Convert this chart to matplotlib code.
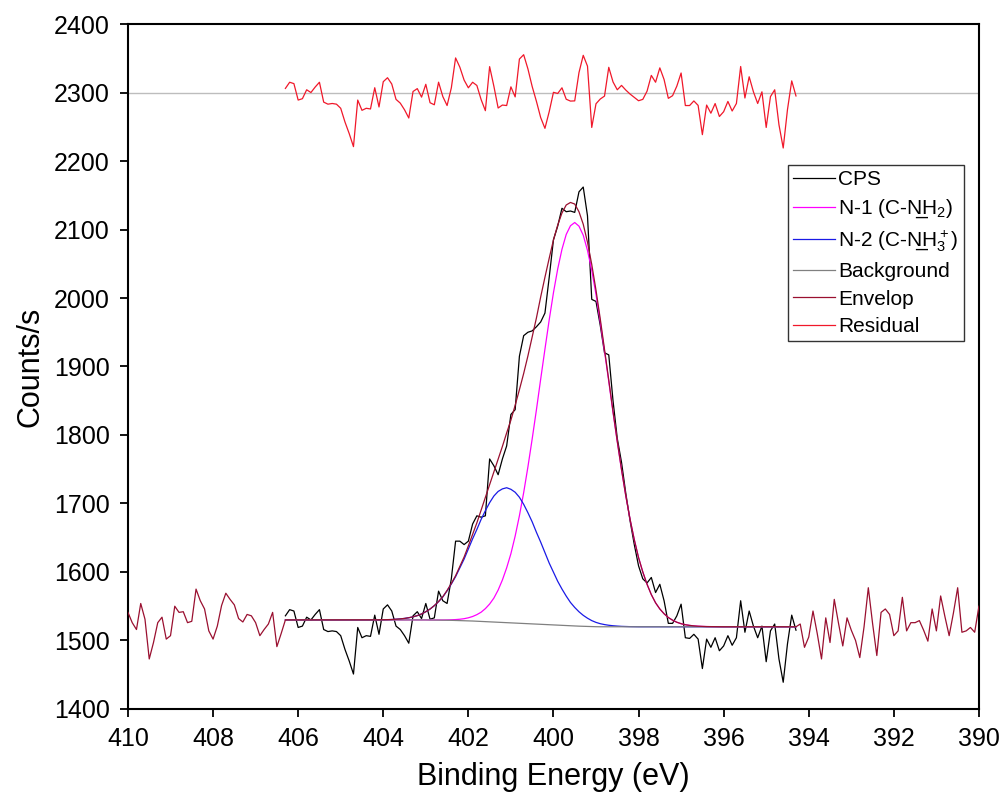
import numpy as np
import matplotlib
matplotlib.use("Agg")
import matplotlib.pyplot as plt

plt.rcParams["font.family"] = ["Liberation Sans", "DejaVu Sans"]
plt.rcParams["mathtext.fontset"] = "custom"
plt.rcParams["mathtext.rm"] = "Liberation Sans"
plt.rcParams["mathtext.it"] = "Liberation Sans:italic"

# binding energy grids (eV), 0.1 eV steps
left_be = np.round(np.arange(410.0, 406.35, -0.1), 1)   # outside fit region
cps_be = np.round(np.arange(406.3, 394.25, -0.1), 1)    # fit region
right_be = np.round(np.arange(394.2, 389.95, -0.1), 1)  # outside fit region

# raw counts outside the fit region (drawn with the envelope colour)
left_counts = [1541, 1526, 1516, 1554, 1531, 1473, 1497, 1526, 1534, 1502,
               1507, 1550, 1541, 1542, 1526, 1528, 1575, 1558, 1546, 1514,
               1502, 1521, 1551, 1569, 1560, 1552, 1532, 1527, 1538, 1536,
               1526, 1507, 1516, 1524, 1541, 1491, 1510]
right_counts = [1524, 1490, 1505, 1543, 1510, 1473, 1533, 1497, 1560, 1525,
                1492, 1533, 1515, 1500, 1475, 1520, 1577, 1525, 1478, 1541,
                1546, 1538, 1507, 1514, 1563, 1514, 1526, 1526, 1529, 1515,
                1499, 1546, 1514, 1565, 1535, 1507, 1540, 1577, 1512, 1514,
                1519, 1512, 1550]

# measured counts in the fit region 406.3 -> 394.3 eV
cps = [1536, 1545, 1543, 1519, 1521, 1534, 1530, 1538, 1545, 1516,
       1513, 1514, 1513, 1507, 1487, 1470, 1451, 1519, 1504, 1507,
       1506, 1537, 1509, 1546, 1552, 1543, 1521, 1516, 1507, 1496,
       1536, 1542, 1532, 1554, 1531, 1533, 1572, 1558, 1554, 1590,
       1645, 1645, 1640, 1645, 1670, 1682, 1680, 1682, 1765, 1755,
       1742, 1765, 1784, 1830, 1837, 1915, 1945, 1950, 1952, 1958,
       1965, 1978, 2030, 2085, 2105, 2131, 2126, 2127, 2125, 2155,
       2162, 2120, 1998, 1995, 1960, 1920, 1917, 1850, 1795, 1760,
       1715, 1675, 1640, 1609, 1590, 1584, 1592, 1570, 1582, 1558,
       1525, 1525, 1536, 1553, 1504, 1503, 1509, 1502, 1459, 1502,
       1490, 1504, 1485, 1492, 1507, 1493, 1504, 1558, 1512, 1543,
       1521, 1504, 1521, 1469, 1514, 1524, 1473, 1439, 1495, 1537,
       1515]

# Shirley-type background 406.3 -> 394.3 eV
background = [1530, 1530, 1530, 1530, 1530, 1530, 1530, 1530, 1530, 1530,
              1530, 1530, 1530, 1530, 1530, 1530, 1530, 1530, 1530, 1530,
              1530, 1530, 1530, 1530, 1530, 1530, 1530, 1530, 1530, 1530,
              1530, 1530, 1530, 1530,
              1529.9, 1529.8, 1529.7, 1529.6, 1529.5, 1529.4, 1529.2, 1529.0, 1528.8, 1528.6,
              1528.4, 1528.1, 1527.8, 1527.5, 1527.2, 1526.9, 1526.6, 1526.3, 1526.0, 1525.7,
              1525.4, 1525.1, 1524.8, 1524.5, 1524.2, 1523.9, 1523.6, 1523.3, 1523.0, 1522.7,
              1522.4, 1522.1, 1521.8, 1521.5, 1521.2, 1520.9, 1520.7, 1520.5, 1520.3, 1520.1,
              1520, 1520, 1520, 1520, 1520, 1520, 1520, 1520, 1520, 1520,
              1520, 1520, 1520, 1520, 1520, 1520, 1520, 1520, 1520, 1520,
              1520, 1520, 1520, 1520, 1520, 1520, 1520, 1520, 1520, 1520,
              1520, 1520, 1520, 1520, 1520, 1520, 1520, 1520, 1520, 1520,
              1520, 1520, 1520, 1520, 1520, 1520, 1520]

# N-1 component height above background, 402.9 -> 396.1 eV (peak 399.5 eV)
n1_start = 402.9
n1_height = [0, 0.1, 0.2, 0.3, 0.5, 0.8, 1.3, 2.0, 3.0, 4.5,
             6.6, 9.6, 13.5, 19, 26, 35, 47, 62, 80, 101,
             127, 157, 191, 229, 270, 313, 358, 402, 445, 485,
             520, 549, 571, 584, 589, 584, 571, 549, 520, 485,
             445, 402, 358, 313, 270, 229, 191, 157, 127, 101,
             80, 62, 47, 35, 26, 19, 13.5, 9.6, 6.6, 4.5,
             3.0, 2.0, 1.3, 0.8, 0.5, 0.3, 0.2, 0.1, 0]

# N-2 component height above background, 404.1 -> 398.1 eV (peak 401.1 eV)
n2_start = 404.1
n2_height = [0.1, 0.2, 0.4, 0.6, 1.0, 1.5, 2.2, 3.2, 4.5, 6.3,
             8.7, 12, 16, 21, 27, 34, 43, 53, 64, 77,
             90, 105, 120, 134, 149, 162, 174, 184, 191, 195,
             197, 195, 191, 184, 174, 162, 149, 134, 120, 105,
             90, 77, 64, 53, 43, 34, 27, 21, 16, 12,
             8.7, 6.3, 4.5, 3.2, 2.2, 1.5, 1.0, 0.6, 0.4, 0.2, 0.1]

residual_offset = 2300

cps = np.array(cps, dtype=float)
bg = np.array(background, dtype=float)
h1 = np.zeros(len(cps_be))
i1 = int(round((cps_be[0] - n1_start) / 0.1))
h1[i1:i1 + len(n1_height)] = n1_height
h2 = np.zeros(len(cps_be))
i2 = int(round((cps_be[0] - n2_start) / 0.1))
h2[i2:i2 + len(n2_height)] = n2_height

n1 = bg + h1
n2 = bg + h2
env = bg + h1 + h2
resid = cps - env + residual_offset

env_be = np.concatenate([left_be, cps_be, right_be])
env_all = np.concatenate([left_counts, env, right_counts])

fig = plt.figure(figsize=(10.06, 8.01), dpi=100)
ax = fig.add_axes([0.1272, 0.1149, 0.8459, 0.8551])

lw = 0.9
ax.axhline(residual_offset, color="#bdbdbd", lw=1.0, zorder=1)
ax.plot(cps_be, cps, color="black", lw=lw, label="CPS", zorder=3)
ax.plot(cps_be, n1, color="#ff00ff", lw=lw, label="N-1 (C-N\u0332H$_2$)", zorder=3)
ax.plot(cps_be, n2, color="#1a1ae6", lw=lw, label="N-2 (C-N\u0332H$_3^+$)", zorder=3)
ax.plot(cps_be, bg, color="#808080", lw=lw, label="Background", zorder=3)
ax.plot(env_be, env_all, color="#9a1030", lw=lw, label="Envelop", zorder=4)
ax.plot(cps_be, resid, color="#f0182a", lw=lw, label="Residual", zorder=3)

ax.set_xlim(410, 390)
ax.set_ylim(1400, 2400)
ax.set_xticks(np.arange(410, 389, -2))
ax.set_yticks(np.arange(1400, 2401, 100))
ax.tick_params(direction="out", length=6, width=1.3, labelsize=18, pad=7)
for s in ax.spines.values():
    s.set_linewidth(1.5)

ax.set_xlabel("Binding Energy (eV)", fontsize=22, labelpad=8)
ax.set_ylabel("Counts/s", fontsize=22, labelpad=6)

leg = ax.legend(loc="upper right", bbox_to_anchor=(0.982, 0.794), borderaxespad=0,
                fontsize=15, frameon=True, fancybox=False, handlelength=2.0,
                handletextpad=0.15, labelspacing=0.4, borderpad=0.25)
leg.get_frame().set_edgecolor("black")
leg.get_frame().set_linewidth(1.0)

fig.savefig("out.png", dpi=100)
